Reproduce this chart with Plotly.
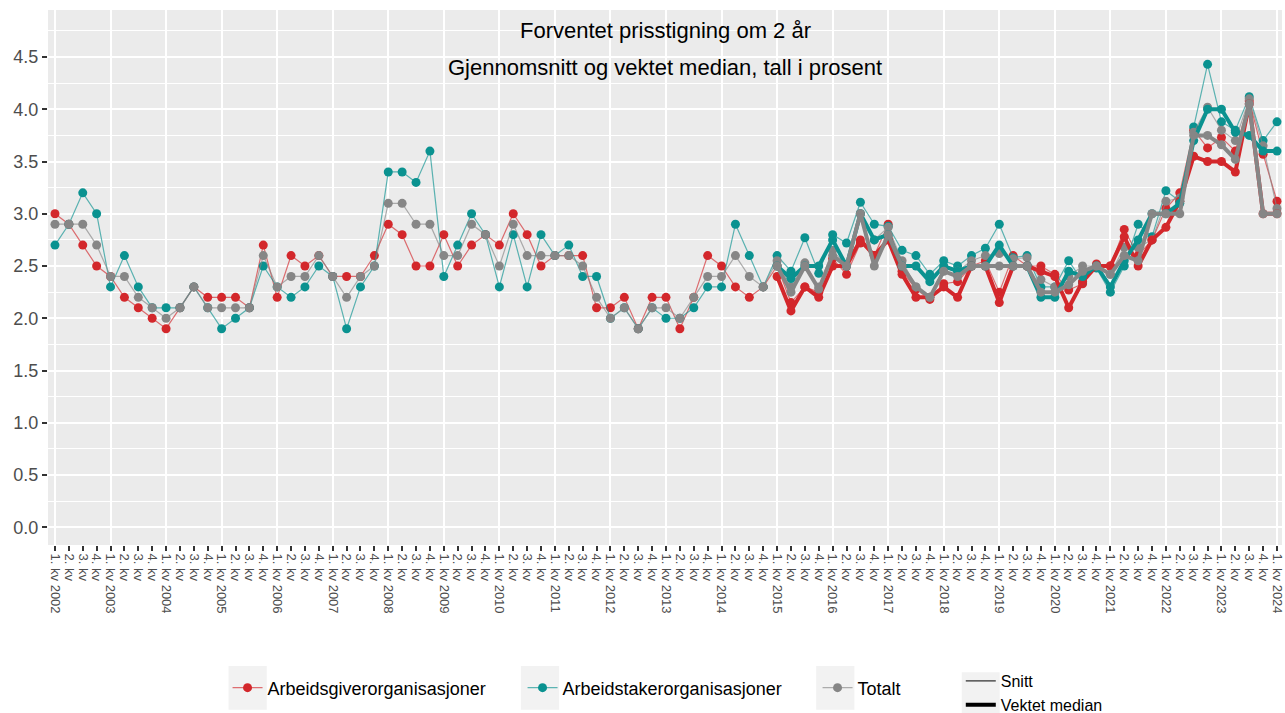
import plotly.graph_objects as go

# Kvartaler 2002K1 - 2024K1
years = list(range(2002, 2025))
quarter_labels = []
for y in years:
    for q in range(1, 5):
        if y == 2024 and q > 1:
            break
        quarter_labels.append(f"{q}. kv {y}" if q == 1 else f"{q}. kv")
x_all = list(range(len(quarter_labels)))
x_median = x_all[52:]  # vektet median fra 2015K1

# Snitt
arbeidsgiver_snitt = [3.0, 2.9, 2.7, 2.5, 2.4, 2.2, 2.1, 2.0, 1.9, 2.1, 2.3, 2.2, 2.2, 2.2, 2.1, 2.7,
                      2.2, 2.6, 2.5, 2.6, 2.4, 2.4, 2.4, 2.6, 2.9, 2.8, 2.5, 2.5, 2.8, 2.5, 2.7, 2.8,
                      2.7, 3.0, 2.8, 2.5, 2.6, 2.6, 2.6, 2.1, 2.1, 2.2, 1.9, 2.2, 2.2, 1.9, 2.2, 2.6,
                      2.5, 2.3, 2.2, 2.3,
                      2.5, 2.15, 2.3, 2.25, 2.57, 2.42, 2.72, 2.6, 2.9, 2.45, 2.28, 2.18, 2.33, 2.35,
                      2.5, 2.55, 2.25, 2.6, 2.5, 2.5, 2.42, 2.27, 2.33, 2.52, 2.5, 2.85, 2.6, 2.75,
                      3.05, 3.2, 3.8, 3.63, 3.73, 3.6, 4.08, 3.57, 3.12]
arbeidstaker_snitt = [2.7, 2.9, 3.2, 3.0, 2.3, 2.6, 2.3, 2.1, 2.1, 2.1, 2.3, 2.1, 1.9, 2.0, 2.1, 2.5,
                      2.3, 2.2, 2.3, 2.5, 2.4, 1.9, 2.3, 2.5, 3.4, 3.4, 3.3, 3.6, 2.4, 2.7, 3.0, 2.8,
                      2.3, 2.8, 2.3, 2.8, 2.6, 2.7, 2.4, 2.4, 2.0, 2.1, 1.9, 2.1, 2.0, 2.0, 2.1, 2.3,
                      2.3, 2.9, 2.6, 2.3,
                      2.6, 2.45, 2.77, 2.43, 2.8, 2.72, 3.11, 2.9, 2.88, 2.65, 2.6, 2.42, 2.55, 2.5,
                      2.6, 2.67, 2.9, 2.58, 2.6, 2.3, 2.3, 2.55, 2.35, 2.48, 2.25, 2.5, 2.9, 2.78,
                      3.22, 3.12, 3.83, 4.43, 3.88, 3.8, 4.12, 3.7, 3.88]
totalt_snitt = [2.9, 2.9, 2.9, 2.7, 2.4, 2.4, 2.2, 2.1, 2.0, 2.1, 2.3, 2.1, 2.1, 2.1, 2.1, 2.6,
                2.3, 2.4, 2.4, 2.6, 2.4, 2.2, 2.4, 2.5, 3.1, 3.1, 2.9, 2.9, 2.6, 2.6, 2.9, 2.8,
                2.5, 2.9, 2.6, 2.6, 2.6, 2.6, 2.5, 2.2, 2.0, 2.1, 1.9, 2.1, 2.1, 2.0, 2.2, 2.4,
                2.4, 2.6, 2.4, 2.3,
                2.55, 2.3, 2.53, 2.3, 2.65, 2.5, 3.0, 2.75, 2.87, 2.55, 2.3, 2.2, 2.48, 2.45,
                2.55, 2.6, 2.62, 2.57, 2.58, 2.37, 2.3, 2.4, 2.5, 2.5, 2.42, 2.68, 2.68, 2.75,
                3.12, 3.15, 3.78, 4.02, 3.8, 3.7, 4.1, 3.65, 3.05]

# Vektet median
arbeidsgiver_median = [2.4, 2.07, 2.3, 2.2, 2.5, 2.5, 2.75, 2.6, 2.75, 2.42, 2.2, 2.2, 2.3, 2.2,
                       2.5, 2.5, 2.15, 2.5, 2.5, 2.45, 2.4, 2.1, 2.35, 2.5, 2.5, 2.78, 2.5, 2.75,
                       2.87, 3.12, 3.55, 3.5, 3.5, 3.4, 4.05, 3.0, 3.0]
arbeidstaker_median = [2.5, 2.38, 2.5, 2.5, 2.75, 2.5, 3.0, 2.75, 2.8, 2.5, 2.5, 2.35, 2.5, 2.45,
                       2.5, 2.5, 2.7, 2.5, 2.5, 2.2, 2.2, 2.45, 2.4, 2.5, 2.3, 2.55, 2.75, 3.0,
                       3.0, 3.1, 3.7, 4.0, 4.0, 3.78, 3.75, 3.6, 3.6]
totalt_median = [2.5, 2.25, 2.5, 2.28, 2.6, 2.5, 3.0, 2.5, 2.8, 2.5, 2.3, 2.2, 2.45, 2.4,
                 2.5, 2.5, 2.5, 2.5, 2.5, 2.25, 2.25, 2.32, 2.45, 2.5, 2.42, 2.6, 2.55, 3.0,
                 3.0, 3.0, 3.75, 3.75, 3.66, 3.52, 4.05, 3.0, 3.0]

serier = [
    ("Arbeidsgiverorganisasjoner", "#D3272B", "rgba(211,39,43,0.65)", arbeidsgiver_snitt, arbeidsgiver_median),
    ("Arbeidstakerorganisasjoner", "#0A9290", "rgba(10,146,144,0.65)", arbeidstaker_snitt, arbeidstaker_median),
    ("Totalt", "#868686", "rgba(134,134,134,0.65)", totalt_snitt, totalt_median),
]

fig = go.Figure()

# tynne linjer = snitt
for navn, farge, linjefarge, snitt, median in serier:
    fig.add_trace(go.Scatter(
        x=x_all, y=snitt, name=navn, mode="lines+markers",
        line=dict(color=linjefarge, width=1.2),
        marker=dict(color=farge, size=9),
        legend="legend",
    ))

# tykke linjer = vektet median
for navn, farge, linjefarge, snitt, median in serier:
    fig.add_trace(go.Scatter(
        x=x_median, y=median, name=navn, mode="lines+markers",
        line=dict(color=farge, width=4),
        marker=dict(color=farge, size=9),
        showlegend=False,
    ))

# legende for linjetype
fig.add_trace(go.Scatter(x=[None], y=[None], mode="lines", name="Snitt",
                         line=dict(color="black", width=1), legend="legend2"))
fig.add_trace(go.Scatter(x=[None], y=[None], mode="lines", name="Vektet median",
                         line=dict(color="black", width=4), legend="legend2"))

# akse for vertikale rutenett ved hvert årsskifte
fig.add_trace(go.Scatter(x=[x_all[0]], y=[None], xaxis="x2", showlegend=False, hoverinfo="skip"))

xrange = [-0.503, 88.36]

# grå bokser bak legendesymbolene (ggplot-stil)
for x0 in [0.1463, 0.3832, 0.6225]:
    fig.add_shape(type="rect", xref="paper", yref="paper", x0=x0, x1=x0 + 0.031,
                  y0=-0.308, y1=-0.226, fillcolor="#F2F2F2", line_width=0, layer="below")
fig.add_shape(type="rect", xref="paper", yref="paper", x0=0.7405, x1=0.7712,
              y0=-0.318, y1=-0.238, fillcolor="#F2F2F2", line_width=0, layer="below")

fig.update_layout(
    width=1285, height=713,
    margin=dict(l=48, r=0, t=10, b=168),
    paper_bgcolor="white",
    plot_bgcolor="#EBEBEB",
    font=dict(family="Liberation Sans, Arial, sans-serif", color="#333333"),
    xaxis=dict(
        range=xrange,
        tickmode="array", tickvals=x_all, ticktext=quarter_labels,
        tickangle=90, tickfont=dict(size=13, color="#4D4D4D"),
        ticks="outside", ticklen=5, tickwidth=1.5, tickcolor="#333333",
        ticklabeloverflow="allow",
        showgrid=False, zeroline=False, showline=False,
    ),
    xaxis2=dict(
        range=xrange, overlaying="x", side="bottom",
        tickmode="linear", tick0=0, dtick=4,
        showticklabels=False, ticks="",
        showgrid=True, gridcolor="white", gridwidth=1.6,
        zeroline=False, showline=False,
    ),
    yaxis=dict(
        range=[-0.17, 4.95],
        tickmode="linear", tick0=0, dtick=0.5, tickformat=".1f",
        tickfont=dict(size=18, color="#4D4D4D"),
        ticks="outside", ticklen=5, tickwidth=1.5, tickcolor="#333333",
        showgrid=True, gridcolor="white", gridwidth=1.6,
        minor=dict(dtick=0.25, tick0=0, showgrid=True, gridcolor="white", gridwidth=0.7),
        zeroline=False, showline=False,
    ),
    legend=dict(
        orientation="h", x=0.1455, xanchor="left",
        y=0.0351, yref="container", yanchor="middle",
        font=dict(size=18, color="black"), entrywidth=250, itemwidth=30,
        bgcolor="rgba(0,0,0,0)",
    ),
    legend2=dict(
        orientation="v", x=0.7397, xanchor="left",
        y=0.0687, yref="container", yanchor="top",
        font=dict(size=16, color="black"), itemwidth=30, tracegroupgap=0,
        bgcolor="rgba(0,0,0,0)",
    ),
    annotations=[
        dict(text="Forventet prisstigning om 2 år", xref="paper", yref="paper",
             x=0.5, y=0.9626, xanchor="center", yanchor="middle", showarrow=False,
             font=dict(size=22, color="black")),
        dict(text="Gjennomsnitt og vektet median, tall i prosent", xref="paper", yref="paper",
             x=0.5, y=0.8916, xanchor="center", yanchor="middle", showarrow=False,
             font=dict(size=22, color="black")),
    ],
)

# siden skal ikke ha standardmarg rundt figuren
fig.write_html("out.html", config={"displayModeBar": False},
               post_script="document.body.style.margin='0';document.body.style.overflow='hidden';")
